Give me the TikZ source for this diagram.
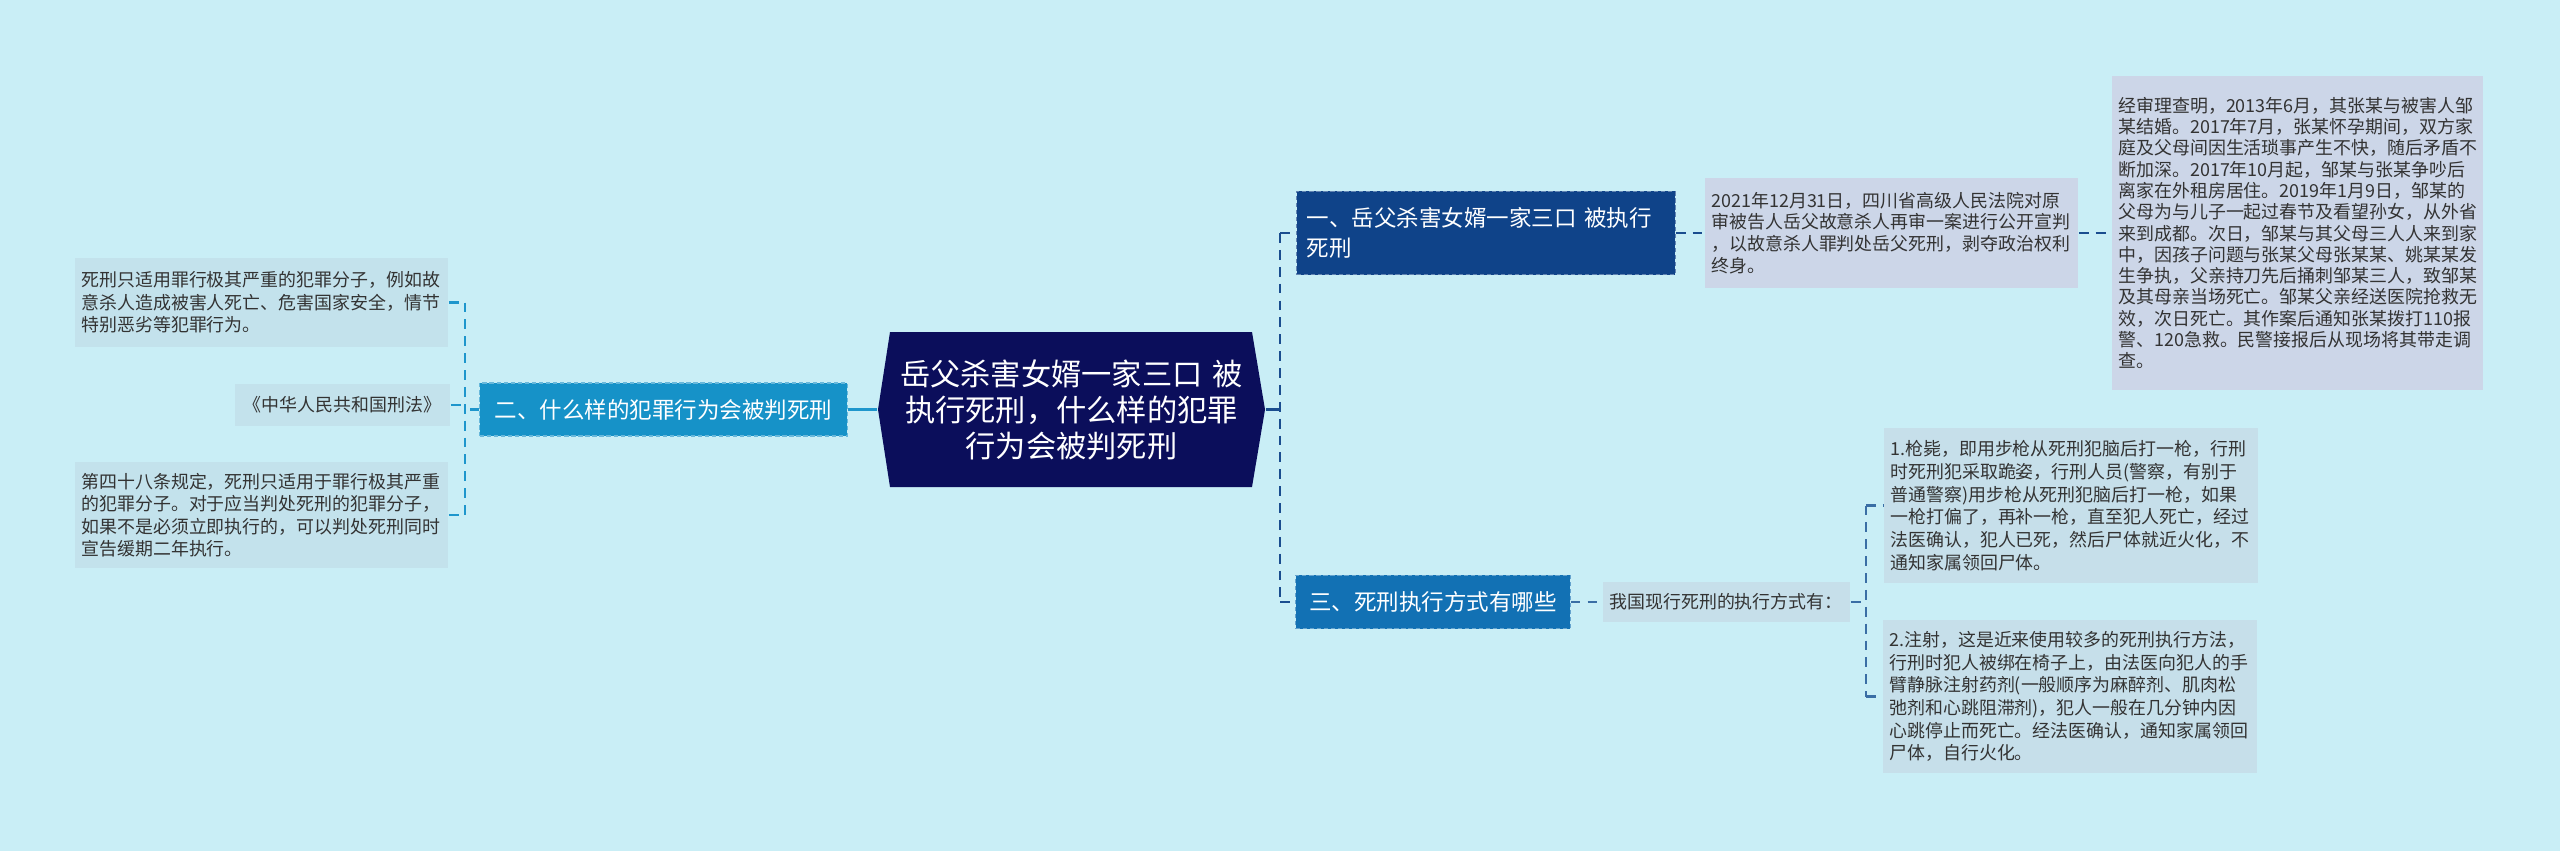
\documentclass[tikz,border=0pt]{standalone}
\usepackage{fontspec}
\setmainfont{Noto Sans CJK SC}
\usetikzlibrary{calc}
\definecolor{bg}{HTML}{C9EEF6}
\definecolor{centrec}{HTML}{0B0E5B}
\definecolor{onec}{HTML}{0F4389}
\definecolor{twoc}{HTML}{1692C8}
\definecolor{threec}{HTML}{1271B4}
\definecolor{leftc}{HTML}{C3E2EC}
\definecolor{lavc}{HTML}{CCD6E8}
\definecolor{leafc}{HTML}{C6DFEA}
\definecolor{txt}{HTML}{333333}
\definecolor{lline}{HTML}{1E96CC}
\definecolor{rline}{HTML}{1A4D8F}
\definecolor{mline}{HTML}{3A6EA5}
\begin{document}
\begin{tikzpicture}[x=0.01cm,y=-0.01cm,
  textbox/.style={text=txt, align=left, inner xsep=0.065cm, inner ysep=0pt,
    font=\fontsize{5.1pt}{6.4pt}\selectfont},
  topic/.style={text=white, inner xsep=0.1cm, inner ysep=0pt,
    font=\fontsize{6.4pt}{8.5pt}\selectfont, draw=white!35!#1, dashed, line width=0.3pt,
    dash pattern=on 1.2pt off 0.8pt, fill=#1},
  conn/.style={line width=0.6pt, dash pattern=on 2.8pt off 2pt},
  solidconn/.style={line width=0.8pt}]
\fill[bg] (0,0) rectangle (2560,851);
\useasboundingbox (0,0) rectangle (2560,851);

% centre shape
\fill[centrec] (890,332) -- (1252,332) -- (1265,409.5) -- (1252,487) -- (890,487) -- (878,409.5) -- cycle;
\node[text=white, align=center, minimum width=3.87cm, minimum height=1.55cm, text width=3.5cm,
  inner sep=0pt, font=\fontsize{8.6pt}{10.24pt}\selectfont] (c) at (1071.5,409.5)
  {岳父杀害女婿一家三口 被\\执行死刑，什么样的犯罪\\行为会被判死刑};

% left side
\node[textbox, fill=leftc, minimum width=3.73cm, minimum height=0.89cm, text width=3.6cm] (l1) at (261.5,302.5)
  {死刑只适用罪行极其严重的犯罪分子，例如故\\意杀人造成被害人死亡、危害国家安全，情节\\特别恶劣等犯罪行为。};
\node[textbox, fill=leftc, align=center, minimum width=2.15cm, minimum height=0.41cm, text width=2.02cm] (l2) at (342.5,405)
  {《中华人民共和国刑法》};
\node[textbox, fill=leftc, minimum width=3.73cm, minimum height=1.06cm, text width=3.6cm] (l3) at (261.5,515)
  {第四十八条规定，死刑只适用于罪行极其严重\\的犯罪分子。对于应当判处死刑的犯罪分子，\\如果不是必须立即执行的，可以判处死刑同时\\宣告缓期二年执行。};
\node[topic=twoc, minimum width=3.67cm, minimum height=0.53cm] (n2) at (663.5,409.5)
  {二、什么样的犯罪行为会被判死刑};

% right side
\node[topic=onec, align=left, minimum width=3.78cm, minimum height=0.83cm, text width=3.58cm] (n1) at (1486,233)
  {一、岳父杀害女婿一家三口 被执行\\死刑};
\node[topic=threec, minimum width=2.74cm, minimum height=0.53cm] (n3) at (1433,602)
  {三、死刑执行方式有哪些};
\node[textbox, fill=lavc, minimum width=3.73cm, minimum height=1.09cm, text width=3.6cm,
  font=\fontsize{5.1pt}{6.2pt}\selectfont] (r1) at (1891.5,233)
  {2021年12月31日，四川省高级人民法院对原\\审被告人岳父故意杀人再审一案进行公开宣判\\，以故意杀人罪判处岳父死刑，剥夺政治权利\\终身。};
\node[textbox, fill=lavc, minimum width=3.71cm, minimum height=3.13cm, text width=3.58cm,
  font=\fontsize{5.1pt}{6.05pt}\selectfont] (r2) at (2297.5,233)
  {经审理查明，2013年6月，其张某与被害人邹\\某结婚。2017年7月，张某怀孕期间，双方家\\庭及父母间因生活琐事产生不快，随后矛盾不\\断加深。2017年10月起，邹某与张某争吵后\\离家在外租房居住。2019年1月9日，邹某的\\父母为与儿子一起过春节及看望孙女，从外省\\来到成都。次日，邹某与其父母三人人来到家\\中，因孩子问题与张某父母张某某、姚某某发\\生争执，父亲持刀先后捅刺邹某三人，致邹某\\及其母亲当场死亡。邹某父亲经送医院抢救无\\效，次日死亡。其作案后通知张某拨打110报\\警、120急救。民警接报后从现场将其带走调\\查。};
\node[textbox, fill=leafc, minimum width=2.47cm, minimum height=0.40cm, text width=2.34cm] (m) at (1726.5,602)
  {我国现行死刑的执行方式有：};
\node[textbox, fill=leafc, minimum width=3.74cm, minimum height=1.55cm, text width=3.61cm,
  font=\fontsize{5.1pt}{6.45pt}\selectfont] (f1) at (2071,505.5)
  {1.枪毙，即用步枪从死刑犯脑后打一枪，行刑\\时死刑犯采取跪姿，行刑人员(警察，有别于\\普通警察)用步枪从死刑犯脑后打一枪，如果\\一枪打偏了，再补一枪，直至犯人死亡，经过\\法医确认，犯人已死，然后尸体就近火化，不\\通知家属领回尸体。};
\node[textbox, fill=leafc, minimum width=3.74cm, minimum height=1.53cm, text width=3.61cm,
  font=\fontsize{5.1pt}{6.45pt}\selectfont] (f2) at (2070,696.5)
  {2.注射，这是近来使用较多的死刑执行方法，\\行刑时犯人被绑在椅子上，由法医向犯人的手\\臂静脉注射药剂(一般顺序为麻醉剂、肌肉松\\弛剂和心跳阻滞剂)，犯人一般在几分钟内因\\心跳停止而死亡。经法医确认，通知家属领回\\尸体，自行火化。};

% connectors left
\coordinate (lt) at (465,409.5);
\draw[solidconn, lline] (c.west) -- (n2.east);
\draw[conn, lline] (n2.west) -- (lt);
\draw[conn, lline] (l1.east -| lt) -- (l3.east -| lt);
\draw[conn, lline] (l1.east) -- (l1.east -| lt);
\draw[conn, lline] (l2.east) -- (l2.east -| lt);
\draw[conn, lline] (l3.east) -- (l3.east -| lt);

% connectors right
\coordinate (rt) at (1280,409.5);
\draw[solidconn, rline] (c.east) -- (rt);
\draw[conn, rline] (n1.west -| rt) -- (n3.west -| rt);
\draw[conn, rline] (n1.west -| rt) -- (n1.west);
\draw[conn, rline] (n3.west -| rt) -- (n3.west);
\draw[conn, rline] (n1.east) -- (r1.west);
\draw[conn, rline] (r1.east) -- (r2.west);
\draw[conn, mline] (n3.east) -- (m.west);
\coordinate (mt) at (1866,602);
\draw[conn, mline] (m.east) -- (mt);
\draw[conn, mline] (f1.west -| mt) -- (f2.west -| mt);
\draw[conn, mline] (f1.west -| mt) -- (f1.west);
\draw[conn, mline] (f2.west -| mt) -- (f2.west);
\end{tikzpicture}
\end{document}
